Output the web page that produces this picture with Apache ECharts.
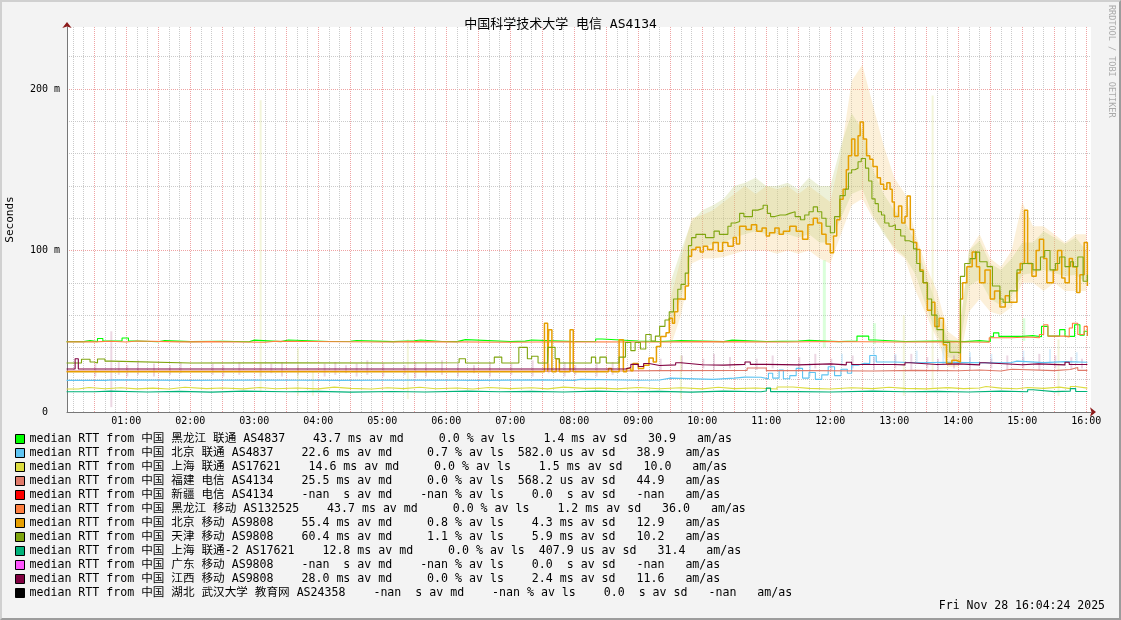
<!DOCTYPE html>
<html><head><meta charset="utf-8">
<script src="https://cdn.jsdelivr.net/npm/echarts@6/dist/echarts.min.js"></script>
<style>
html,body{margin:0;padding:0;background:#f3f3f3;}
#wrap{position:relative;width:1121px;height:620px;}
#chart{position:absolute;left:0;top:0;width:1121px;height:620px;}
#frame{position:absolute;left:0;top:0;width:1121px;height:620px;box-sizing:border-box;border-top:2px solid #d0d0d0;border-left:2px solid #d0d0d0;border-right:2px solid #9c9c9c;border-bottom:2px solid #9c9c9c;pointer-events:none;}
</style></head><body>
<div id="wrap"><div id="chart"></div><div id="frame"></div></div>
<script>
// ---- text ----
const titleText = '中国科学技术大学 电信 AS4134';
const yAxisName = 'Seconds';
const dateText = 'Fri Nov 28 16:04:24 2025';
const sideText = 'RRDTOOL / TOBI OETIKER';
// x axis: minutes since 00:00 ; window 00:04:24 -> 16:04:24
const xMin = 4.4, xMax = 964.4;
const hourTicks = [60,120,180,240,300,360,420,480,540,600,660,720,780,840,900,960];
const yMax = 238.4;              // ms
const yLabelTicks = [0,100,200];

// ---- legend ----
const targetNames = [
  '中国 黑龙江 联通 AS4837','中国 北京 联通 AS4837','中国 上海 联通 AS17621','中国 福建 电信 AS4134',
  '中国 新疆 电信 AS4134','中国 黑龙江 移动 AS132525','中国 北京 移动 AS9808','中国 天津 移动 AS9808',
  '中国 上海 联通-2 AS17621','中国 广东 移动 AS9808','中国 江西 移动 AS9808','中国 湖北 武汉大学 教育网 AS24358'
];
const legendStats = [
  '43.7 ms av md     0.0 % av ls    1.4 ms av sd   30.9   am/as',
  '22.6 ms av md     0.7 % av ls  582.0 us av sd   38.9   am/as',
  '14.6 ms av md     0.0 % av ls    1.5 ms av sd   10.0   am/as',
  '25.5 ms av md     0.0 % av ls  568.2 us av sd   44.9   am/as',
  '-nan  s av md    -nan % av ls    0.0  s av sd   -nan   am/as',
  '43.7 ms av md     0.0 % av ls    1.2 ms av sd   36.0   am/as',
  '55.4 ms av md     0.8 % av ls    4.3 ms av sd   12.9   am/as',
  '60.4 ms av md     1.1 % av ls    5.9 ms av sd   10.2   am/as',
  '12.8 ms av md     0.0 % av ls  407.9 us av sd   31.4   am/as',
  '-nan  s av md    -nan % av ls    0.0  s av sd   -nan   am/as',
  '28.0 ms av md     0.0 % av ls    2.4 ms av sd   11.6   am/as',
  '-nan  s av md    -nan % av ls    0.0  s av sd   -nan   am/as'
];
const targetColors = ['#00ff00','#5ec4f2','#dcdc40','#e07a6a','#ff0000','#ff7f40','#e69f00','#7fa50f','#00b27a','#ff55ff','#800040','#000000'];

// ---- median RTT (ms) as [minute, value] step points ----
const hljUnicom = [[4,43.6],[20,44.2],[26,43.6],[33,45.5],[38,44],[56,45.8],[62,44],[70,43.5],[90,44.2],[96,43.6],[120,43.8],[150,43.5],[175,44.5],[180,43.6],[205,44.6],[212,43.7],[250,43.8],[270,44.3],[276,43.6],[310,44.1],[330,44.6],[336,43.7],[356,43.6],[370,44.8],[378,43.7],[420,43.9],[434,44.6],[440,43.7],[480,43.8],[500,45.2],[506,44],[540,43.7],[560,44.2],[580,43.6],[620,44.5],[628,43.7],[660,44],[690,44.4],[700,43.6],[728,44],[745,47],[756,44.6],[762,43.7],[790,44],[820,43.6],[846,44.2],[860,43.7],[870,46.6],[873,49],[878,46.8],[900,47.3],[910,46.6],[918,53],[924,47],[935,51],[940,46.8],[949,54],[954,47.5],[958,50],[961,47]];
const bjUnicom = [[4,19.6],[40,19.9],[48,19.6],[120,19.8],[180,19.6],[260,19.8],[340,19.6],[390,19.9],[450,19.6],[480,20.2],[486,19.7],[540,19.8],[560,21],[570,20.2],[610,21],[630,21.6],[640,21.5],[655,20.5],[662,24],[666,21],[672,26],[676,20.6],[682,22.5],[688,27],[694,21],[700,24.5],[706,20.2],[712,23],[718,28],[724,22.5],[730,26.5],[736,24],[740,29],[746,30.2],[752,30],[757,35],[763,31],[780,30.5],[800,30.8],[830,30.4],[870,30.6],[890,31.5],[895,30.6],[920,31.2],[940,30.8],[961,31]];
const shUnicom = [[4,14.2],[15,15.2],[25,14.4],[40,15],[55,14.3],[70,14.8],[85,14.2],[100,15.3],[115,14.5],[135,14.9],[150,14.3],[170,15.2],[185,14.4],[200,14.9],[220,14.3],[240,15.4],[255,14.6],[270,14.2],[290,15],[305,14.5],[320,15.3],[335,14.4],[350,14.9],[370,14.2],[385,15.2],[400,14.5],[420,15],[440,14.3],[455,15.4],[470,14.6],[490,14.8],[505,14.3],[520,15.2],[540,14.4],[560,15],[580,14.3],[600,15.3],[615,14.5],[630,14.9],[650,14.2],[670,15.5],[685,14.6],[700,14.2],[720,15],[740,14.5],[760,15.3],[775,14.6],[790,14.3],[810,15.1],[830,14.5],[845,14.9],[860,15.8],[866,14.8],[880,14.4],[895,15.2],[905,14.6],[920,15.4],[935,14.5],[945,15.8],[950,14.8],[961,15.2]];
const fjTelecom = [[4,25.3],[120,25.4],[300,25.3],[480,25.4],[520,25.6],[560,25.7],[642,27.2],[660,25.6],[700,25.4],[760,25.8],[800,25.5],[840,26],[860,25.4],[880,26.5],[890,25.6],[930,26.3],[945,27.5],[952,25.8],[961,26.2]];
const xjTelecom = [];
const hljMobile = [[4,43.4],[30,43.8],[45,43.3],[60,44],[70,43.4],[110,43.6],[140,43.2],[190,43.8],[200,43.3],[300,43.6],[330,43.2],[420,43.5],[470,43.3],[560,43.6],[600,43.3],[680,43.7],[720,43.3],[780,43.5],[830,43.2],[869,46],[890,46.4],[905,46],[916,48],[920,54],[924,47],[940,46.5],[944,52],[947,55],[952,48],[958,53],[961,47]];
const bjMobile = [[4,25],[452,55],[455,25],[456,51],[459,25],[463,33],[466,25],[476,51],[479,25],[512,27],[515,25],[522,44.7],[526,25],[529,27],[533,25.5],[535,30],[540,27],[545,29],[550,33.5],[554,31],[557,40.6],[561,46.8],[566,49],[569,58],[572,55],[574,62],[577,70],[581,69.6],[584,78],[587,96.5],[590,100.6],[594,102],[598,99],[601,102.7],[605,100.6],[610,105],[615,99.6],[619,105],[624,102.7],[629,108],[632,104],[635,115],[641,113],[646,116],[651,112],[656,114],[660,109],[663,111],[668,114],[672,110],[676,112],[682,115],[688,112],[694,107],[699,116],[704,120],[708,117],[712,110],[716,104],[720,98.6],[723,109],[726,119],[729,131.7],[732,138],[735,150],[737,158.6],[740,169],[743,158.6],[746,171],[748,179.5],[751,169],[754,158.6],[757,156.5],[760,152],[764,145],[767,141],[770,138],[773,142],[776,138],[778,130],[780,121],[784,127.5],[787,117],[790,121],[792,133.7],[795,113],[798,105],[801,100.6],[804,88],[807,80],[811,63],[815,68],[818,53],[822,58],[826,41.6],[829,30],[834,32],[838,31],[842,70],[844,80],[848,90],[853,99],[857,90],[860,80],[865,88],[870,70],[874,75],[879,65],[884,72],[888,68],[895,86],[898,92],[902,125],[905,92],[909,84],[913,100],[916,107],[920,95],[923,80],[929,88],[933,100],[937,83],[940,80],[944,95],[947,90],[951,74],[954,85],[958,105],[961,78]];
const tjMobile = [[4,30.3],[18,32.7],[26,31],[30,30.3],[33,32.8],[40,31.5],[46,30.3],[120,30.4],[200,30.3],[300,30.5],[372,33],[378,30.3],[405,34],[412,30.3],[428,40],[436,33],[440,34.5],[446,30.3],[455,40],[462,33],[466,30.3],[496,34],[500,30.3],[504,34],[510,30.3],[522,34],[528,43],[533,38],[537,43],[542,39],[547,48],[552,44],[556,47],[560,53],[565,57],[569,62],[573,70],[577,76],[580,79],[584,86],[587,103],[590,108],[594,110],[598,110],[603,108],[607,108],[611,112],[616,110],[620,110],[624,115],[627,117],[631,118],[635,123],[639,121],[643,121],[647,125],[652,126],[657,128],[661,123],[664,121],[668,122],[673,122],[678,123],[682,124],[687,121],[692,119],[696,122],[700,124],[704,127],[708,124],[712,120],[716,115],[720,111],[724,121],[729,134],[734,138],[737,148],[740,150],[743,151],[746,155],[749,157],[753,151],[756,143],[759,132],[762,129],[765,124],[768,122],[771,117],[775,115],[778,116],[781,113],[786,109],[790,106],[794,105],[798,101],[801,92],[804,87],[807,80],[811,70],[815,60],[820,51],[826,43],[832,37],[839,36.5],[842,84],[846,92],[851,95],[856,99],[860,93],[867,90],[872,78],[879,70],[882,68],[888,75],[895,88],[900,92],[904,92],[910,88],[917,96],[921,100],[926,88],[931,92],[935,96],[940,90],[945,93],[948,90],[952,96],[957,81],[961,85]];
const shUnicom2 = [[4,12.5],[30,12.9],[45,12.4],[80,12.8],[110,12.3],[140,12.9],[170,12.5],[210,12.8],[240,12.3],[270,12.7],[310,12.4],[340,12.9],[380,12.5],[410,12.8],[440,12.4],[470,12.9],[500,12.5],[530,12.8],[560,12.3],[590,12.9],[620,12.5],[655,13],[660,14.8],[664,12.6],[690,12.4],[720,12.9],[760,12.5],[790,12.8],[820,12.4],[850,12.9],[880,12.5],[905,13.8],[910,12.6],[930,12.9],[945,14.5],[950,12.7],[961,12.8]];
const gdMobile = [];
const jxMobile = [[4,26.6],[12,33],[15,26.6],[520,26.6],[528,27.5],[533,29.5],[540,28.2],[545,30],[550,28.8],[560,29.2],[575,30.5],[580,29.3],[600,29],[620,29.5],[640,31],[645,29.5],[660,29.2],[690,29.8],[720,29.2],[735,30.8],[740,29.4],[780,29.2],[790,30.5],[795,29.4],[820,29.8],[840,29.2],[860,30.5],[865,29.3],[900,29.8],[915,29.2],[940,30.8],[944,29.4],[961,29.5]];
const hbEdu = [];
const medians = [hljUnicom,bjUnicom,shUnicom,fjTelecom,xjTelecom,hljMobile,bjMobile,tjMobile,shUnicom2,gdMobile,jxMobile,hbEdu];

// ---- smoke (spread) envelopes, ms ----
const smokeT    = [570,580,590,600,610,620,630,640,650,660,670,680,690,700,710,720,730,740,750,760,770,780,790,800,810,820,830,840,850,860,870,880,890,900,910,920,930,940,950,960];
const orangeLo  = [40,60,92,95,95,96,98,100,100,100,98,100,98,100,95,92,110,128,132,120,112,100,95,75,60,45,28,28,62,70,62,60,65,80,80,75,80,75,75,75];
const orangeHi  = [70,95,120,122,125,130,135,140,135,140,138,140,135,140,135,130,160,205,215,190,165,145,135,110,90,75,50,45,100,110,95,90,100,130,115,115,110,105,110,110];
const greenLo   = [55,70,100,102,104,105,108,110,112,110,110,110,108,110,105,105,120,135,138,122,110,102,96,85,65,48,34,32,78,82,70,66,72,85,86,88,86,84,85,80];
const greenHi   = [80,100,118,125,128,132,140,142,145,140,140,142,138,145,140,140,165,185,175,150,135,125,118,105,85,65,45,42,100,106,92,88,95,105,105,112,108,104,108,100];
// single-sample smoke strokes: [minute, low ms, high ms]
const jxSmoke = [[45,3,50],[30,22,30],[52,23,31],[60,22,29],[70,23,32],[85,22,30],[100,23,29],[110,24,31],[140,23,30],[150,22,29],[165,23,31],[185,22,30],[195,24,30],[205,22,31],[220,23,29],[245,22,30],[255,23,31],[265,24,29],[275,22,30],[285,23,32],[300,22,30],[320,23,29],[330,21,31],[340,22,30],[355,23,32],[370,22,30],[385,24,29],[400,22,31],[420,23,30],[440,22,32],[455,24,30],[470,22,31],[480,23,29],[500,22,30],[515,23,31],[560,26,33],[580,26,35],[600,27,33],[610,26,36],[625,27,34],[650,26,33],[665,27,35],[690,26,34],[705,27,36],[720,26,33],[740,27,35],[760,26,34],[780,27,35],[795,26,36],[810,27,34],[820,26,33],[835,27,35],[850,26,34],[870,27,33],[885,26,35],[900,27,34],[915,26,36],[930,27,35],[945,26,34],[955,27,33]];
const bjUnicomSmoke = [[700,22,30],[730,29,36],[760,30,40],[780,30,36],[800,30,38],[825,29,40],[850,30,37],[870,30,36],[900,30,38],[925,30,39],[950,30,37]];
const paleSmoke = [[185,12,193],[220,10,40],[234,10,25],[323,8,45],[579,8,35],[788,10,60],[815,15,196],[933,10,45]];
const hljSmoke = [[713,40,94],[760,42,55],[900,44,58]];

// ---- build ----
const MONO = '"DejaVu Sans Mono","Noto Sans CJK SC",monospace';
const gridMinutes = []; for (let m = 10; m <= 960; m += 10) gridMinutes.push(m);
const gridMs = []; for (let v = 20; v <= 220; v += 20) gridMs.push(v);
const legendMap = {};
targetNames.forEach((n, i) => { legendMap[n] = 'median RTT from ' + n + '    ' + legendStats[i]; });

// envelope polygon drawn through the axis scales
function envelope(lo, hi, color) {
  const data = smokeT.map((t, i) => [t, lo[i], hi[i]]);
  return {
    type: 'custom', data, silent: true, z: 1, clip: true,
    encode: {x: 0, y: [1, 2]},
    renderItem: (params, api) => {
      if (params.dataIndex !== 0) return null;
      const up = data.map(d => api.coord([d[0], d[2]]));
      const dn = data.map(d => api.coord([d[0], d[1]])).reverse();
      return {type: 'polygon', shape: {points: up.concat(dn)}, style: {fill: color}};
    }
  };
}
// thin vertical smoke strokes
function strokes(data, color, w) {
  return {
    type: 'custom', data, silent: true, z: 1, clip: true,
    encode: {x: 0, y: [1, 2]},
    renderItem: (params, api) => {
      const a = api.coord([api.value(0), api.value(2)]);
      const b = api.coord([api.value(0), api.value(1)]);
      return {type: 'rect', shape: {x: a[0], y: a[1], width: w, height: b[1] - a[1]}, style: {fill: color}};
    }
  };
}
const series = [
  envelope(orangeLo, orangeHi, 'rgba(246,200,120,0.28)'),
  envelope(greenLo, greenHi, 'rgba(195,210,130,0.30)'),
  strokes(jxSmoke, 'rgba(200,140,175,0.35)', 2),
  strokes(bjUnicomSmoke, 'rgba(150,210,245,0.35)', 2),
  strokes(paleSmoke, 'rgba(220,225,150,0.35)', 2),
  strokes(hljSmoke, 'rgba(150,255,150,0.35)', 3)
];
targetNames.forEach((n, i) => {
  const w = (i === 6) ? 1.5 : 1.1;
  series.push({
    name: n, type: 'line', data: medians[i], step: 'end', symbol: 'none', showSymbol: false,
    color: targetColors[i], lineStyle: {color: targetColors[i], width: w}, itemStyle: {color: targetColors[i]},
    silent: true, z: 2 + i, emphasis: {disabled: true}
  });
});

const chart = echarts.init(document.getElementById('chart'), null, {renderer: 'canvas'});
chart.setOption({
  animation: false,
  backgroundColor: '#f3f3f3',
  title: {text: titleText, left: 'center', top: 13, textStyle: {fontFamily: MONO, fontSize: 13, fontWeight: 'normal', color: '#000'}},
  grid: {left: 67, right: 30, top: 27, bottom: 208, show: true, backgroundColor: '#ffffff', borderWidth: 0, containLabel: false, outerBoundsMode: 'none'},
  legend: {
    data: targetNames, orient: 'vertical', left: 15, top: 432, padding: 0, itemGap: 0,
    itemWidth: 9, itemHeight: 9, icon: 'rect', selectedMode: false,
    itemStyle: {borderColor: '#000', borderWidth: 1},
    formatter: n => legendMap[n],
    textStyle: {fontFamily: MONO, fontSize: 11.6, color: '#000', lineHeight: 14}
  },
  xAxis: [{
    type: 'value', min: xMin, max: xMax,
    axisLine: {show: true, lineStyle: {color: '#777', width: 1}},
    axisTick: {show: false, customValues: gridMinutes},
    splitLine: {show: true, lineStyle: {color: ['rgba(190,190,190,0.8)','rgba(190,190,190,0.8)','rgba(235,140,140,0.8)'], type: 'dotted', width: 1}},
    axisLabel: {customValues: hourTicks, margin: 4, fontFamily: MONO, fontSize: 10, color: '#000',
      formatter: v => String(Math.round(v / 60)).padStart(2, '0') + ':00'}
  }, {
    type: 'value', min: xMin, max: xMax, position: 'bottom',
    axisLine: {show: true, symbol: ['none','arrow'], symbolSize: [7, 6], symbolOffset: [0, 5], lineStyle: {color: '#8b1a1a', width: 0}},
    axisTick: {show: false}, axisLabel: {show: false}, splitLine: {show: false}
  }],
  yAxis: [{
    type: 'value', min: 0, max: yMax,
    name: yAxisName, nameLocation: 'middle', nameGap: 51,
    nameTextStyle: {fontFamily: MONO, fontSize: 11, color: '#000'},
    axisLine: {show: true, lineStyle: {color: '#777', width: 1}},
    axisTick: {show: false, customValues: gridMs},
    splitLine: {show: true, lineStyle: {color: ['rgba(190,190,190,0.8)','rgba(190,190,190,0.8)','rgba(190,190,190,0.8)','rgba(190,190,190,0.8)','rgba(235,140,140,0.8)'], type: 'dotted', width: 1}},
    axisLabel: {customValues: yLabelTicks, margin: 7, fontFamily: MONO, fontSize: 10, color: '#000',
      formatter: v => v === 0 ? '0  ' : v + ' m'}
  }, {
    type: 'value', min: 0, max: yMax, position: 'left',
    axisLine: {show: true, symbol: ['none','arrow'], symbolSize: [7, 6], symbolOffset: [0, 5], lineStyle: {color: '#8b1a1a', width: 0}},
    axisTick: {show: false}, axisLabel: {show: false}, splitLine: {show: false}
  }],
  graphic: [
    {type: 'text', x: 1105, y: 606, style: {text: dateText, font: '11.5px ' + MONO, fill: '#000', textAlign: 'right', textVerticalAlign: 'middle'}},
    {type: 'text', x: 1111, y: 5, rotation: -Math.PI / 2, style: {text: sideText, font: '8.5px ' + MONO, fill: '#aaaaaa', textAlign: 'left', textVerticalAlign: 'middle'}}
  ],
  series
});
</script>
</body></html>
